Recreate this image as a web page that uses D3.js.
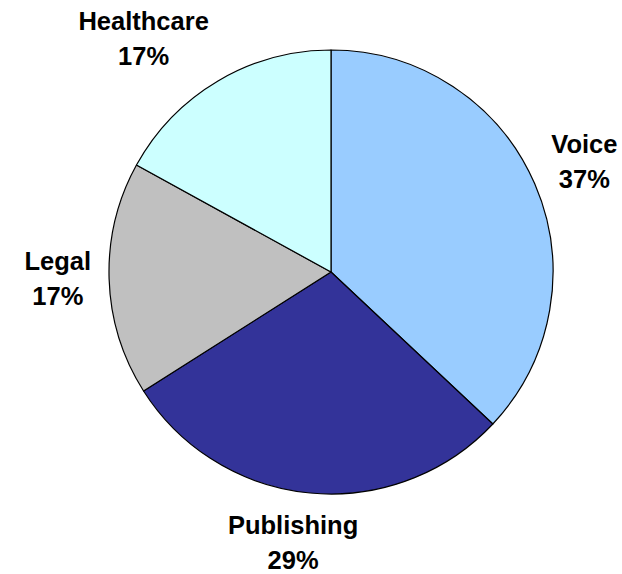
<!DOCTYPE html>
<html>
<head>
<meta charset="utf-8">
<script src="https://cdn.jsdelivr.net/npm/d3@7"></script>
<style>
  html, body { margin: 0; padding: 0; background: #fff; }
  svg { display: block; }
  text { font-family: "Liberation Sans", Arial, sans-serif; font-weight: bold; fill: #000; }
</style>
</head>
<body>
<svg id="chart" width="622" height="574"></svg>
<script>
// Share of work by segment
const categories = ["Voice", "Publishing", "Legal", "Healthcare"];
const values = [37, 29, 17, 17];
const colors = ["#99CCFF", "#333399", "#C0C0C0", "#CCFFFF"];

const width = 622, height = 574;
const cx = 331, cy = 272, radius = 222;
const fontSize = 25.5, lineGap = 35;
const capHeight = 0.716 * fontSize;

const svg = d3.select("#chart");
const g = svg.append("g").attr("transform", `translate(${cx},${cy})`);

const data = categories.map((c, i) => ({ name: c, value: values[i], color: colors[i] }));
const total = d3.sum(values);

const pie = d3.pie().sort(null).value(d => d.value).startAngle(0).endAngle(2 * Math.PI);
const arc = d3.arc().innerRadius(0).outerRadius(radius);
// Ring just outside the pie where each label box touches
const anchorArc = d3.arc().innerRadius(radius + 18).outerRadius(radius + 18);

const arcs = pie(data);

g.selectAll("path.slice")
  .data(arcs)
  .join("path")
  .attr("class", "slice")
  .attr("d", arc)
  .attr("fill", d => d.data.color)
  .attr("stroke", "#000")
  .attr("stroke-width", 1.2)
  .attr("stroke-linejoin", "round");

const clamp = (v, lo, hi) => Math.max(lo, Math.min(hi, v));

const labels = g.selectAll("g.label")
  .data(arcs)
  .join("g")
  .attr("class", "label");

labels.each(function (d) {
  const sel = d3.select(this);
  const t = sel.append("text")
    .attr("text-anchor", "middle")
    .attr("font-size", fontSize);
  t.append("tspan").attr("x", 0).attr("y", 0).text(d.data.name);
  t.append("tspan").attr("x", 0).attr("y", lineGap)
    .text(Math.round(d.data.value / total * 100) + "%");

  // Visible box: cap top of first line to baseline of second line
  const w = t.node().getBBox().width;
  const top = -capHeight, bottom = lineGap;
  const h = bottom - top;

  const mid = (d.startAngle + d.endAngle) / 2;
  const [ax, ay] = anchorArc.centroid(d);
  const sx = clamp(Math.sin(mid) * 2.5, -1, 1);
  const sy = clamp(-1.25 * Math.cos(mid) - 0.08, -1, 1.25);
  const boxCx = ax + sx * w / 2;
  const boxCy = ay + sy * h / 2;
  const dx = boxCx;
  const dy = boxCy - (top + bottom) / 2;
  sel.attr("transform", `translate(${dx},${dy})`);
});
</script>
</body>
</html>
